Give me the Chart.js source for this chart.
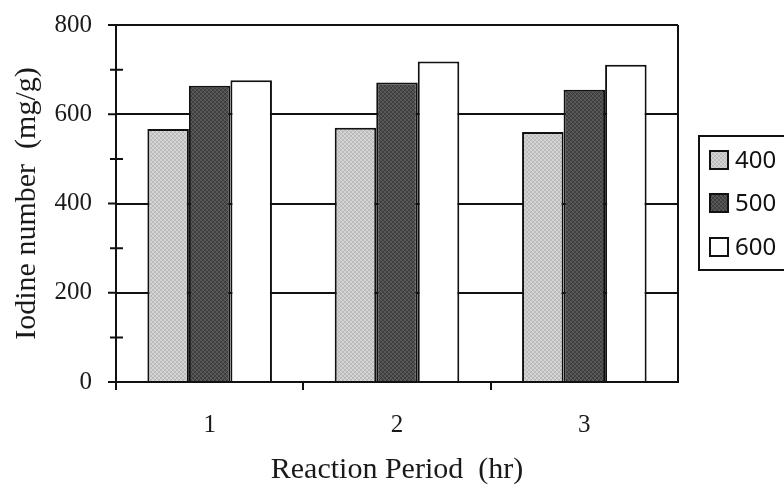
<!DOCTYPE html>
<html>
<head>
<meta charset="utf-8">
<script src="https://cdn.jsdelivr.net/npm/chart.js@4.4.1/dist/chart.umd.min.js"></script>
<style>
  html, body { margin: 0; padding: 0; background: #fff; }
  #wrap { width: 784px; height: 488px; position: relative; }
</style>
</head>
<body>
<div id="wrap"><canvas id="iodineChart"></canvas></div>
<script>
// data
var categories = ['1', '2', '3'];
var seriesNames = ['400', '500', '600'];
var values400 = [567, 570, 560];
var values500 = [664, 671, 655];
var values600 = [676, 718, 711];
var yTicks = [0, 200, 400, 600, 800];

// small stipple tile so the grey bars look like the printed screen tone
function stipple(shades){
    var c = document.createElement('canvas');
    c.width = 4; c.height = 4;
    var g = c.getContext('2d');
    var order = [0,2,1,3, 3,1,2,0, 1,3,0,2, 2,0,3,1];
    for(var i=0; i<16; i++){
        g.fillStyle = shades[order[i] % shades.length];
        g.fillRect(i % 4, Math.floor(i / 4), 1, 1);
    }
    return g.createPattern(c, 'repeat');
}

var fill400 = stipple(['#cdcdcd', '#b6b6b6', '#dcdcdc', '#c0c0c0']);
var fill500 = stipple(['#4e4e4e', '#383838', '#626262', '#474747']);
var fill600 = '#ffffff';

// tick marks, right border and the boxed legend
var framePlugin = {
    id: 'frame',
    afterDraw: function(chart){
        var ctx = chart.ctx;
        var a = chart.chartArea;
        var ys = chart.scales.y;
        var xs = chart.scales.x;
        ctx.save();
        ctx.strokeStyle = '#111';
        ctx.lineWidth = 2;
        ctx.beginPath();
        // right border
        ctx.moveTo(a.right, a.top);
        ctx.lineTo(a.right, a.bottom);
        // y major / minor ticks
        for(var v=0; v<=800; v+=100){
            var py = ys.getPixelForValue(v);
            if(v % 200 == 0){
                ctx.moveTo(a.left - 8, py);
                ctx.lineTo(a.left, py);
            }else{
                ctx.moveTo(a.left - 6, py);
                ctx.lineTo(a.left + 7, py);
            }
        }
        // x ticks between categories
        var half = (xs.getPixelForValue(1) - xs.getPixelForValue(0)) / 2;
        for(var i=0; i<categories.length; i++){
            var px = Math.round(xs.getPixelForValue(i) - half);
            ctx.moveTo(px, a.bottom);
            ctx.lineTo(px, a.bottom + 8);
        }
        ctx.stroke();

        // legend
        var lx = 699, ly = 136, lh = 134;
        ctx.strokeRect(lx, ly, 100, lh);
        ctx.font = '24px "Noto Sans"';
        ctx.textBaseline = 'middle';
        var rows = [160, 203, 247];
        chart.data.datasets.forEach(function(ds, k){
            ctx.fillStyle = ds.backgroundColor;
            ctx.fillRect(710, rows[k] - 9, 18, 18);
            ctx.strokeRect(710, rows[k] - 9, 18, 18);
            ctx.fillStyle = '#111';
            ctx.fillText(ds.label, 735, rows[k] + 1);
        });
        ctx.restore();
    }
};

Chart.defaults.font.family = '"Liberation Serif", "Times New Roman", serif';
Chart.defaults.color = '#1a1a1a';

var ctx = document.getElementById('iodineChart').getContext('2d');
ctx.canvas.width = 784;
ctx.canvas.height = 488;

var chart = new Chart(ctx, {
    type: 'bar',
    data: {
        labels: categories,
        datasets: [
            { label: seriesNames[0], data: values400, backgroundColor: fill400 },
            { label: seriesNames[1], data: values500, backgroundColor: fill500 },
            { label: seriesNames[2], data: values600, backgroundColor: fill600 }
        ]
    },
    options: {
        responsive: false,
        maintainAspectRatio: false,
        animation: false,
        layout: { padding: { left: 0, right: 106, top: 25, bottom: 0 } },
        datasets: {
            bar: {
                borderColor: '#111',
                borderWidth: 2,
                categoryPercentage: 0.665,
                barPercentage: 1.0
            }
        },
        plugins: {
            legend: { display: false },
            tooltip: { enabled: false }
        },
        scales: {
            x: {
                grid: { display: false },
                border: { display: true, color: '#111', width: 2 },
                ticks: { font: { size: 25 }, padding: 20, color: '#1a1a1a' },
                title: {
                    display: true,
                    text: 'Reaction Period  (hr)',
                    font: { size: 30 },
                    padding: { top: 0, bottom: 0 },
                    color: '#1a1a1a'
                },
                afterFit: function(scale){ scale.height = 106; }
            },
            y: {
                min: 0,
                max: 800,
                afterBuildTicks: function(scale){
                    scale.ticks = yTicks.map(function(v){ return { value: v }; });
                },
                grid: { color: '#111', lineWidth: 2, drawTicks: true, tickLength: 20, tickColor: 'rgba(0,0,0,0)' },
                border: { display: true, color: '#111', width: 2 },
                ticks: { font: { size: 25 }, padding: 4, color: '#1a1a1a' },
                title: {
                    display: true,
                    text: 'Iodine number  (mg/g)',
                    font: { size: 30 },
                    padding: { top: 9, bottom: 0 },
                    color: '#1a1a1a'
                },
                afterFit: function(scale){ scale.width = 116; }
            }
        }
    },
    plugins: [framePlugin]
});
</script>
</body>
</html>
